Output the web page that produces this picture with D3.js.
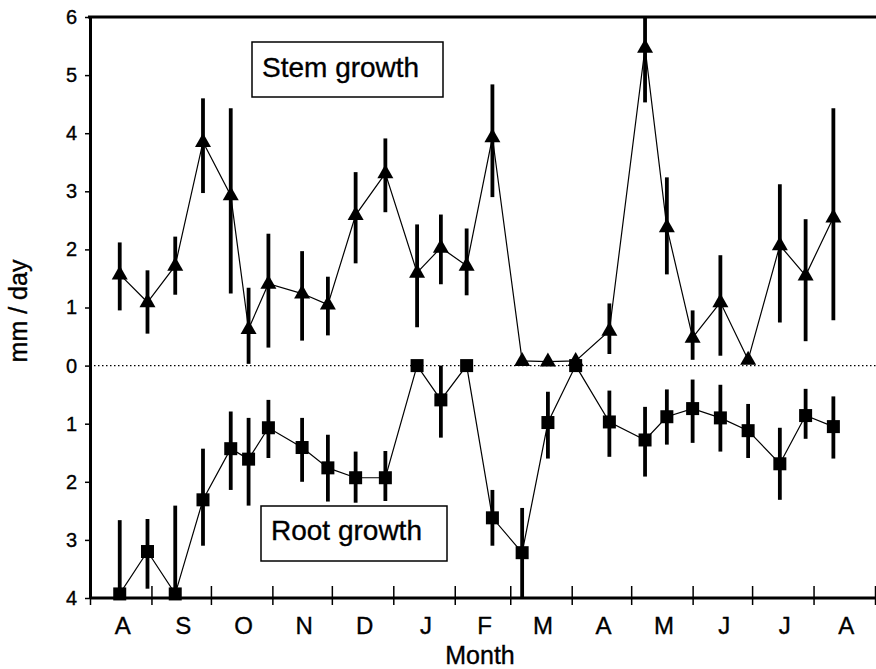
<!DOCTYPE html>
<html>
<head>
<meta charset="utf-8">
<script src="https://cdn.jsdelivr.net/npm/d3@7"></script>
<style>
  body { margin: 0; background: #fff; }
  svg { display: block; font-family: Arial, "Liberation Sans", Helvetica, sans-serif; }
  text { stroke: #000; stroke-width: 0.35px; }
</style>
</head>
<body>
<div id="chart"></div>
<script>
// sampling dates (Aug 1990 .. Aug 1991)
const dates = [
  '1990-08-16', '1990-08-30', '1990-09-13', '1990-09-27', '1990-10-11', '1990-10-20',
  '1990-10-30', '1990-11-16', '1990-11-29', '1990-12-13', '1990-12-28', '1991-01-13',
  '1991-01-25', '1991-02-07', '1991-02-20', '1991-03-07', '1991-03-20', '1991-04-03',
  '1991-04-20', '1991-05-08', '1991-05-19', '1991-06-01', '1991-06-15', '1991-06-29',
  '1991-07-15', '1991-07-28', '1991-08-11'
];

// stem growth, mm/day (null = no error bar drawn)
const stemMean = [1.57, 1.09, 1.72, 3.85, 2.93, 0.63, 1.41, 1.24, 1.05, 2.59, 3.31, 1.60, 2.03, 1.72,
  3.93, 0.08, 0.07, 0.08, 0.60, 5.47, 2.38, 0.48, 1.09, 0.10, 2.07, 1.55, 2.55];
const stemLo = [0.95, 0.55, 1.22, 2.97, 1.24, 0.03, 0.31, 0.43, 0.52, 1.76, 2.64, 0.66, 1.40, 1.21,
  2.90, null, null, null, 0.20, 4.53, 1.57, 0.10, 0.17, null, 0.74, 0.42, 0.78];
const stemHi = [2.12, 1.64, 2.22, 4.60, 4.43, 1.34, 2.27, 1.97, 1.53, 3.33, 3.91, 2.43, 2.60, 2.36,
  4.84, null, null, null, 1.07, 6.00, 3.24, 0.95, 1.90, null, 3.12, 2.52, 4.43];

// root growth, mm/day (plotted downward)
const rootMean = [3.93, 3.20, 3.93, 2.31, 1.43, 1.61, 1.07, 1.41, 1.76, 1.93, 1.93, 0.00, 0.59, 0.00,
  2.62, 3.22, 0.98, 0.00, 0.97, 1.28, 0.88, 0.74, 0.90, 1.12, 1.69, 0.86, 1.05];
const rootLo = [2.66, 2.64, 2.41, 1.43, 0.79, 0.90, 0.59, 0.90, 1.19, 1.48, 1.47, null, 0.00, null,
  2.14, 2.45, 0.45, null, 0.43, 0.71, 0.41, 0.24, 0.33, 0.66, 1.07, 0.40, 0.53];
const rootHi = [4.00, 3.84, 4.00, 3.10, 2.14, 2.41, 1.59, 2.00, 2.34, 2.36, 2.33, null, 1.24, null,
  3.10, 4.00, 1.60, null, 1.57, 1.91, 1.36, 1.33, 1.48, 1.59, 2.31, 1.26, 1.60];

const yTicks = [-4, -3, -2, -1, 0, 1, 2, 3, 4, 5, 6];

const W = 876, H = 669;
const parse = d3.timeParse('%Y-%m-%d');
const days = dates.map(parse);

const svg = d3.select('#chart').append('svg')
  .attr('width', W).attr('height', H);

const x = d3.scaleTime()
  .domain([new Date(1990, 7, 1), new Date(1991, 8, 1)])
  .range([90, 875]);
const y = d3.scaleLinear().domain([-4, 6]).range([598, 17]);

// zero reference
svg.append('line')
  .attr('x1', x.range()[0]).attr('x2', W)
  .attr('y1', y(0)).attr('y2', y(0))
  .attr('stroke', '#000').attr('stroke-width', 1.2)
  .attr('stroke-dasharray', '1.5,2.5');

// top frame
svg.append('line')
  .attr('x1', x.range()[0] - 2).attr('x2', W)
  .attr('y1', y(6)).attr('y2', y(6))
  .attr('stroke', '#000').attr('stroke-width', 3);

// left axis
const gy = svg.append('g')
  .attr('transform', `translate(${x.range()[0]},0)`)
  .call(d3.axisLeft(y).tickValues(yTicks).tickSize(5).tickSizeOuter(0).tickPadding(8)
    .tickFormat(d => Math.abs(d)));
gy.select('.domain').attr('stroke-width', 3);
gy.selectAll('.tick line').attr('stroke-width', 1.5);
gy.selectAll('.tick text').attr('font-size', 20).attr('font-family', null).attr('fill', '#000');

// bottom axis (month boundaries)
const gx = svg.append('g')
  .attr('transform', `translate(0,${y(-4)})`)
  .call(d3.axisBottom(x).ticks(d3.timeMonth.every(1)).tickSize(7).tickSizeOuter(0).tickFormat(''));
gx.select('.domain').attr('stroke-width', 3).attr('d', `M${x.range()[0]},0H${W}`);
gx.selectAll('.tick line').attr('y1', -12).attr('stroke-width', 1.5);

// month initials, centred between month boundaries
const months = d3.timeMonth.range(x.domain()[0], x.domain()[1]);
svg.append('g').selectAll('text').data(months).join('text')
  .attr('x', d => (x(d) + x(d3.timeMonth.offset(d, 1))) / 2 + 2)
  .attr('y', y(-4) + 36)
  .attr('text-anchor', 'middle')
  .attr('font-size', 24)
  .text(d => d3.timeFormat('%b')(d)[0]);

svg.append('text')
  .attr('x', 480).attr('y', 664)
  .attr('text-anchor', 'middle').attr('font-size', 25)
  .text('Month');

svg.append('text')
  .attr('transform', 'translate(27,311) rotate(-90)')
  .attr('text-anchor', 'middle').attr('font-size', 25)
  .text('mm / day');

// series
const stem = days.map((d, i) => ({ d, v: stemMean[i], lo: stemLo[i], hi: stemHi[i] }));
const root = days.map((d, i) => ({ d, v: -rootMean[i],
  lo: rootLo[i] == null ? null : -rootLo[i], hi: rootHi[i] == null ? null : -rootHi[i] }));

const line = d3.line().x(p => x(p.d)).y(p => y(p.v));

[stem, root].forEach(s => {
  svg.append('path').datum(s)
    .attr('d', line).attr('fill', 'none')
    .attr('stroke', '#000').attr('stroke-width', 1.2);
  svg.append('g').selectAll('line').data(s.filter(p => p.lo != null)).join('line')
    .attr('x1', p => x(p.d)).attr('x2', p => x(p.d))
    .attr('y1', p => y(p.lo)).attr('y2', p => y(p.hi))
    .attr('stroke', '#000').attr('stroke-width', 3.8);
});

svg.append('g').selectAll('rect').data(root).join('rect')
  .attr('x', p => x(p.d) - 6.5).attr('y', p => y(p.v) - 6.5)
  .attr('width', 13).attr('height', 13).attr('fill', '#000');

svg.append('g').selectAll('path').data(stem).join('path')
  .attr('transform', p => `translate(${x(p.d)},${y(p.v)})`)
  .attr('d', 'M0,-9L8,5L-8,5Z').attr('fill', '#000');

// labels in boxes
function labelBox(x0, y0, w, h, txt, tx, ty) {
  svg.append('rect')
    .attr('x', x0).attr('y', y0).attr('width', w).attr('height', h)
    .attr('fill', '#fff').attr('stroke', '#000').attr('stroke-width', 1.5);
  svg.append('text')
    .attr('x', tx).attr('y', ty).attr('font-size', 28).text(txt);
}
labelBox(252, 42, 191, 55, 'Stem growth', 262, 77);
labelBox(261, 506, 186, 55, 'Root growth', 271, 540);
</script>
</body>
</html>
